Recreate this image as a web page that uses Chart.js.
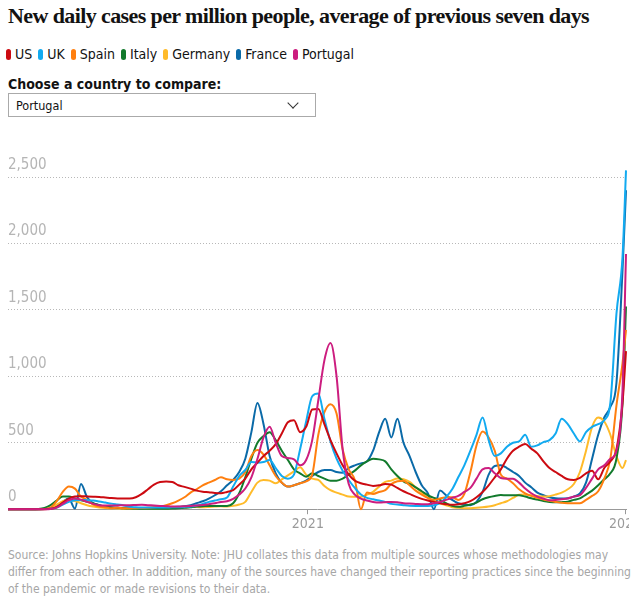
<!DOCTYPE html>
<html>
<head>
<meta charset="utf-8">
<script src="https://cdn.jsdelivr.net/npm/chart.js@4.4.1/dist/chart.umd.min.js"></script>
<style>
  html, body { margin: 0; padding: 0; background: #fff; }
  body { width: 640px; height: 596px; position: relative; overflow: hidden;
         font-family: "Liberation Sans Narrow", "DejaVu Sans Condensed", "Liberation Sans", sans-serif; color: #121212; }
  #title { position: absolute; left: 8px; top: 2px; font-family: "Liberation Serif", serif; font-weight: bold;
           font-size: 22px; letter-spacing: -0.6px; white-space: nowrap; line-height: 28px; }
  #legend { position: absolute; left: 6px; top: 45px; display: flex; font-size: 14px; line-height: 18px; white-space: nowrap; }
  #legend .item { display: flex; align-items: center; margin-right: 6px; }
  #legend .sw { width: 5px; height: 11px; border-radius: 3px; margin-right: 4px; }
  #choose { position: absolute; left: 8px; top: 75px; font-weight: bold; font-size: 14px; line-height: 18px; }
  #select { position: absolute; left: 8px; top: 93px; width: 308px; height: 24px; border: 1px solid #aaa; box-sizing: border-box;
            font-size: 12.5px; line-height: 23px; padding-left: 7px; }
  #chev { position: absolute; right: 18px; top: 5px; width: 7px; height: 7px; border-right: 1.3px solid #333; border-bottom: 1.3px solid #333;
          transform: rotate(45deg); }
  #wrap { position: absolute; left: 0; top: 140px; width: 629px; height: 400px; overflow: hidden; }
  #chart { position: absolute; left: 0; top: 0; }
  #source { position: absolute; left: 8px; top: 547px; width: 630px; font-size: 12px; line-height: 17px; color: #a6a6a6; }
</style>
</head>
<body>
<div id="title">New daily cases per million people, average of previous seven days</div>
<div id="legend"></div>
<div id="choose">Choose a country to compare:</div>
<div id="select">Portugal<div id="chev"></div></div>
<div id="wrap"><canvas id="chart" width="660" height="400"></canvas></div>
<div id="source">Source: Johns Hopkins University. Note: JHU collates this data from multiple sources whose methodologies may differ from each other. In addition, many of the sources have changed their reporting practices since the beginning of the pandemic or made revisions to their data.</div>
<script>
const countries = ["US", "UK", "Spain", "Italy", "Germany", "France", "Portugal"];
const colours = ["#cc0a11", "#12aaf0", "#ff7f0f", "#127a2c", "#ffbb2a", "#0a6aa8", "#cc1d7f"];

const dates = [
"2020-01-22","2020-01-29","2020-02-05","2020-02-12","2020-02-19","2020-02-26","2020-03-04","2020-03-11","2020-03-18","2020-03-25",
"2020-04-01","2020-04-08","2020-04-15","2020-04-22","2020-04-29","2020-05-06","2020-05-13","2020-05-20","2020-05-27","2020-06-03",
"2020-06-10","2020-06-17","2020-06-24","2020-07-01","2020-07-08","2020-07-15","2020-07-22","2020-07-29","2020-08-05","2020-08-12",
"2020-08-19","2020-08-26","2020-09-02","2020-09-09","2020-09-16","2020-09-23","2020-09-30","2020-10-07","2020-10-14","2020-10-21",
"2020-10-28","2020-11-04","2020-11-11","2020-11-18","2020-11-25","2020-12-02","2020-12-09","2020-12-16","2020-12-23","2020-12-30",
"2021-01-06","2021-01-13","2021-01-20","2021-01-27","2021-02-03","2021-02-10","2021-02-17","2021-02-24","2021-03-03","2021-03-10",
"2021-03-17","2021-03-24","2021-03-31","2021-04-07","2021-04-14","2021-04-21","2021-04-28","2021-05-05","2021-05-12","2021-05-19",
"2021-05-26","2021-06-02","2021-06-09","2021-06-16","2021-06-23","2021-06-30","2021-07-07","2021-07-14","2021-07-21","2021-07-28",
"2021-08-04","2021-08-11","2021-08-18","2021-08-25","2021-09-01","2021-09-08","2021-09-15","2021-09-22","2021-09-29","2021-10-06",
"2021-10-13","2021-10-20","2021-10-27","2021-11-03","2021-11-10","2021-11-17","2021-11-24","2021-12-01","2021-12-08","2021-12-15",
"2021-12-22","2021-12-29","2022-01-02"];

const us = [0,0,0,0,0,0,0,3,15,50, 80,95,98,96,94,92,88,84,81,80,
  80,90,115,150,185,205,208,205,180,168, 155,140,132,128,122,120,130,143,185,230,
  300,350,400,440,490,570,655,670,580,620, 750,755,640,520,420,330,260,215,195,185,
  175,180,190,185,160,135,115,95,78,65, 55,45,38,33,37,45,60,90,130,180,
  240,300,380,440,470,490,455,420,360,310, 280,250,225,220,235,270,290,225,310,360,
  450,800,1190];
const uk = [0,0,0,0,0,0,1,4,12,35, 55,68,70,68,65,58,50,42,35,28,
  18,15,13,12,12,12,13,14,15,17, 20,28,40,55,65,75,88,170,250,295,
  355,350,355,370,310,250,230,260,450,660, 850,870,680,510,380,290,220,160,110,85,
  75,65,55,40,35,30,26,25,25,25, 30,45,90,150,240,330,440,560,690,520,
  400,420,470,500,510,560,470,480,505,520, 570,680,640,570,510,580,620,640,670,800,
  1470,1900,2550];
const spain = [0,0,0,0,0,0,1,12,60,130, 170,155,95,70,35,20,15,8,10,7,
  8,8,9,10,14,20,30,45,65,90, 125,150,180,200,220,240,225,220,230,280,
  400,445,410,330,250,200,170,180,195,210, 260,560,730,790,720,450,300,220,0,125,
  115,130,143,190,210,215,180,140,110,85, 70,80,90,90,70,115,280,480,585,540,
  440,260,230,195,150,120,100,85,72,63, 55,48,45,44,45,70,100,135,230,380,
  780,1100,1350];
const italy = [0,0,0,0,0,2,10,30,65,95, 95,80,68,55,45,30,20,13,10,7,
  5,4,3,3,3,3,4,5,7,10, 15,20,22,25,25,25,25,45,120,240,
  380,500,550,580,520,440,370,300,270,245, 270,250,230,215,215,230,260,290,330,360,
  380,375,360,300,250,210,190,165,135,105, 85,70,45,25,18,25,35,50,75,90,
  100,106,105,105,105,95,82,72,62,55, 52,53,57,70,82,110,140,180,225,270,
  380,800,1525];
const germany = [0,0,0,0,0,0,1,8,35,60, 70,62,45,30,20,13,9,7,6,4,
  4,5,5,5,5,6,7,9,13,15, 16,16,15,17,20,22,20,25,35,55,
  130,200,219,215,195,225,255,285,315,260, 230,220,175,143,125,110,95,93,93,110,
  130,170,205,215,231,225,205,165,125,85, 60,45,30,15,10,8,8,10,14,20,
  30,45,60,85,108,110,105,100,95,98, 110,125,150,190,280,440,620,690,660,560,
  400,310,370];
const france = [0,0,0,0,0,0,1,5,25,55, 80,5,190,90,45,30,20,15,10,8,
  8,8,8,9,10,12,14,15,18,22, 30,45,60,80,105,135,180,220,280,380,
  580,800,640,400,270,200,170,180,195,215, 250,280,295,295,280,275,310,330,345,360,
  440,580,680,540,680,500,400,280,180,120, 0,140,105,70,45,35,30,55,130,260,
  325,330,310,280,250,200,165,125,105,90, 82,80,82,95,118,200,380,560,690,770,
  950,1800,2400];
const portugal = [0,0,0,0,0,0,0,2,12,40, 68,80,72,55,40,30,28,27,28,30,
  30,32,33,30,28,25,23,20,20,22, 25,28,32,38,45,55,60,78,110,156,
  240,380,540,620,500,400,385,375,330,370, 520,820,1120,1250,1000,450,190,110,80,65,
  55,50,52,55,52,45,42,40,38,38, 45,55,70,85,100,130,160,230,300,310,
  270,235,230,230,200,155,120,95,80,68, 70,75,80,95,105,160,230,300,330,380,
  440,900,1920];
const seriesValues = [us, uk, spain, italy, germany, france, portugal];

const yTicks = [0, 500, 1000, 1500, 2000, 2500];
const yearTicks = ["2021-01-01", "2022-01-01"];
const yearLabels = ["2021", "2022"];

const DAY = 86400000;
const toDay = s => Date.parse(s + "T00:00:00Z") / DAY;
const xs = dates.map(toDay);
const yearTickDays = yearTicks.map(toDay);

const legend = document.getElementById("legend");
countries.forEach((c, i) => {
  const it = document.createElement("div"); it.className = "item";
  const sw = document.createElement("span"); sw.className = "sw"; sw.style.background = colours[i];
  const tx = document.createElement("span"); tx.textContent = c;
  it.appendChild(sw); it.appendChild(tx); legend.appendChild(it);
});

const datasets = countries.map((c, i) => ({
  label: c,
  data: seriesValues[i].map((v, j) => ({ x: xs[j], y: v })),
  borderColor: colours[i],
  backgroundColor: colours[i],
  borderWidth: 2,
  pointRadius: 0,
  tension: 0.35,
  cubicInterpolationMode: "monotone",
  clip: false,
  order: c === "Portugal" ? 0 : i + 1
}));

new Chart(document.getElementById("chart"), {
  type: "line",
  data: { datasets },
  options: {
    responsive: false,
    animation: false,
    events: [],
    layout: { padding: { left: 8, right: 34, top: 37, bottom: 5 } },
    plugins: { legend: { display: false }, tooltip: { enabled: false } },
    scales: {
      x: {
        type: "linear",
        min: xs[0],
        max: xs[xs.length - 1],
        afterBuildTicks: axis => { axis.ticks = yearTickDays.map(v => ({ value: v })); },
        ticks: {
          autoSkip: false, maxRotation: 0, padding: 2,
          color: "#9a9a9a", font: { family: "Liberation Sans Narrow, DejaVu Sans Condensed, sans-serif", size: 14 },
          callback: (v) => { const k = yearTickDays.indexOf(v); return k >= 0 ? yearLabels[k] : ""; }
        },
        grid: { drawOnChartArea: false, drawTicks: true, tickLength: 5, color: "#999" },
        border: { display: true, color: "#999", width: 1 }
      },
      y: {
        min: 0, max: 2500,
        afterBuildTicks: axis => { axis.ticks = yTicks.map(v => ({ value: v })); },
        ticks: {
          mirror: true, padding: 0, labelOffset: -12, color: "#b5b5b5",
          font: { family: "Liberation Sans Narrow, DejaVu Sans Condensed, sans-serif", size: 15 },
          callback: v => v.toLocaleString("en-US")
        },
        grid: { drawTicks: false, color: ctx => ctx.tick && ctx.tick.value === 0 ? "rgba(0,0,0,0)" : "#b8b8b8", lineWidth: 1 },
        border: { display: false, dash: [1, 2] }
      }
    }
  }
});
</script>
</body>
</html>
